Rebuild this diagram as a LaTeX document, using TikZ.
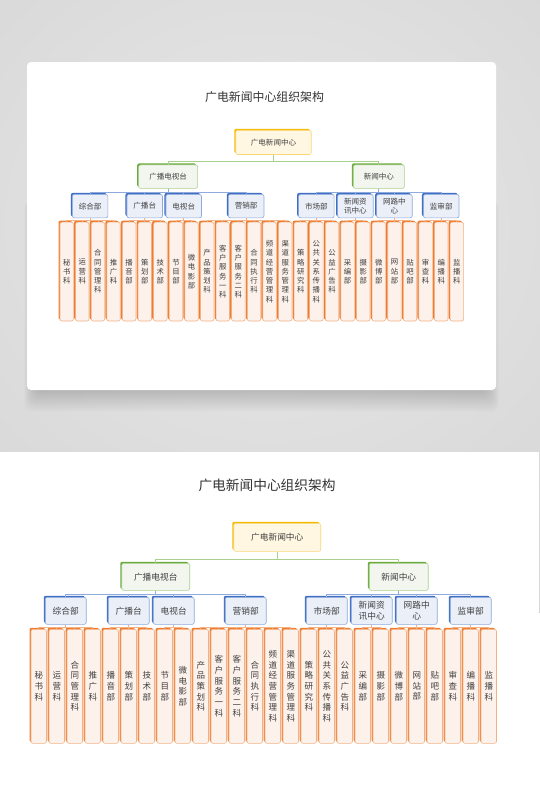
\documentclass[tikz,border=0pt]{standalone}
\usepackage{fontspec}
\setmainfont{Noto Sans CJK SC}
\usetikzlibrary{shadows}
\definecolor{rootD}{HTML}{F5BA00}
\definecolor{rootL}{HTML}{F9D77A}
\definecolor{rootF}{HTML}{FFF7E2}
\definecolor{lvtD}{HTML}{6AAA3E}
\definecolor{lvtL}{HTML}{A9D18E}
\definecolor{lvtF}{HTML}{F2F6EE}
\definecolor{lvhD}{HTML}{3E6FC4}
\definecolor{lvhL}{HTML}{8FAADC}
\definecolor{lvhF}{HTML}{EAEFF8}
\definecolor{lvfD}{HTML}{ED7D31}
\definecolor{lvfL}{HTML}{F4B183}
\definecolor{lvfF}{HTML}{FCF1EB}
\definecolor{txt}{HTML}{404040}
\definecolor{bgin}{HTML}{E8E8E8}
\definecolor{bgout}{HTML}{D7D7D7}
\tikzset{
  basebox/.style={draw, rounded corners=2pt, inner sep=0pt, align=center,
    text=txt, line width=0.6pt, anchor=north},
  rootbox/.style={basebox, draw=rootL, fill=rootF,
    general shadow={shadow xshift=-1.5pt, shadow yshift=1.5pt, fill=rootD},
    minimum width=87pt, minimum height=28pt, font=\fontsize{8.7}{10.5}\selectfont},
  twobox/.style={basebox, draw=lvtL, fill=lvtF,
    general shadow={shadow xshift=-1.5pt, shadow yshift=1.5pt, fill=lvtD},
    minimum height=27pt, font=\fontsize{8.7}{10.5}\selectfont},
  threebox/.style={basebox, draw=lvhL, fill=lvhF,
    general shadow={shadow xshift=-1.5pt, shadow yshift=1.5pt, fill=lvhD},
    minimum width=41pt, minimum height=27pt, font=\fontsize{8.7}{11}\selectfont},
  fourbox/.style={basebox, draw=lvfL, fill=lvfF,
    general shadow={shadow xshift=-1.5pt, shadow yshift=1.5pt, fill=lvfD},
    minimum width=15.5pt, minimum height=114pt, font=\fontsize{8.5}{10.7}\selectfont},
  gline/.style={draw=lvtL, line width=0.8pt},
  hline/.style={draw=lvhL, line width=0.8pt},
  fline/.style={draw=lvfL, line width=0.8pt},
  titlestyle/.style={text=black!80, font=\fontsize{13.7}{16}\selectfont, inner sep=0pt}
}
\newcommand{\orgchart}[1]{%
  \node[titlestyle] (#1title) at (236,-38) {广电新闻中心组织架构};
  \node[rootbox] (#1root) at (246.25,0) {广电新闻中心};
  \node[twobox, minimum width=68pt] (#1ta) at (124.75,40) {广播电视台};
  \node[twobox, minimum width=59pt] (#1tb) at (367.75,40) {新闻中心};
  \foreach \n/\cx/\t in {1/34.75/综合部, 2/97.75/广播台, 3/142.75/电视台, 4/214.75/营销部,
      5/295.75/市场部, 6/340.75/{新闻资\\讯中心}, 7/385.75/{网路中\\心}, 8/439.75/监审部}
    {\node[threebox] (#1c\n) at (\cx,74) {\t};}
  \foreach \i/\t in {0/{秘\\书\\科}, 1/{运\\营\\科}, 2/{合\\同\\管\\理\\科}, 3/{推\\广\\科},
      4/{播\\音\\部}, 5/{策\\划\\部}, 6/{技\\术\\部}, 7/{节\\目\\部}, 8/{微\\电\\影\\部},
      9/{产\\品\\策\\划\\科}, 10/{客\\户\\服\\务\\一\\科}, 11/{客\\户\\服\\务\\二\\科},
      12/{合\\同\\执\\行\\科}, 13/{频\\道\\经\\营\\管\\理\\科}, 14/{渠\\道\\服\\务\\管\\理\\科},
      15/{策\\略\\研\\究\\科}, 16/{公\\共\\关\\系\\传\\播\\科}, 17/{公\\益\\广\\告\\科},
      18/{采\\编\\部}, 19/{摄\\影\\部}, 20/{微\\博\\部}, 21/{网\\站\\部}, 22/{贴\\吧\\部},
      23/{审\\查\\科}, 24/{编\\播\\科}, 25/{监\\播\\科}}
    {\node[fourbox] (#1f\i) at ({18*\i+7.75},106) {\t};}
  \draw[gline] (#1root.south) -- ++(0,8) -| (#1ta.north);
  \draw[gline] (#1root.south) -- ++(0,8) -| (#1tb.north);
  \foreach \c in {1,2,3,4} {\draw[hline] (#1ta.south) -- ++(0,4) -| (#1c\c.north);}
  \foreach \c in {5,6,7,8} {\draw[hline] (#1tb.south) -- ++(0,4) -| (#1c\c.north);}
  \foreach \i/\p in {0/1,1/1,2/1,3/1,4/2,5/2,6/2,7/3,8/3,9/4,10/4,11/4,12/4,13/4,14/4,
      15/5,16/5,17/5,18/6,19/6,20/7,21/7,22/7,23/8,24/8,25/8}
    {\draw[fline] (#1c\p.south) -- ++(0,2.5) -| (#1f\i.north);}
}
\begin{document}
\begin{tikzpicture}[x=1pt,y=-1pt]
\useasboundingbox (0,0) rectangle (539,812);
\fill[white] (0,0) rectangle (539,812);
\shade[inner color=bgin, outer color=bgout] (-160,-160) rectangle (699,612);
\fill[white] (0,452) rectangle (539,812);
% card shadow
\foreach \k in {1,...,22}
  {\fill[black, opacity=0.008, rounded corners=8pt]
     (37-0.6*\k,200) rectangle (486+0.6*\k,388+1.1*\k);}
\fill[white, rounded corners=4pt] (27,62) rectangle (496,390);
\begin{scope}[shift={(60,130)}, scale=0.867, transform shape]
  \orgchart{t}
\end{scope}
\begin{scope}[shift={(31,523)}]
  \orgchart{b}
\end{scope}
\end{tikzpicture}
\end{document}
